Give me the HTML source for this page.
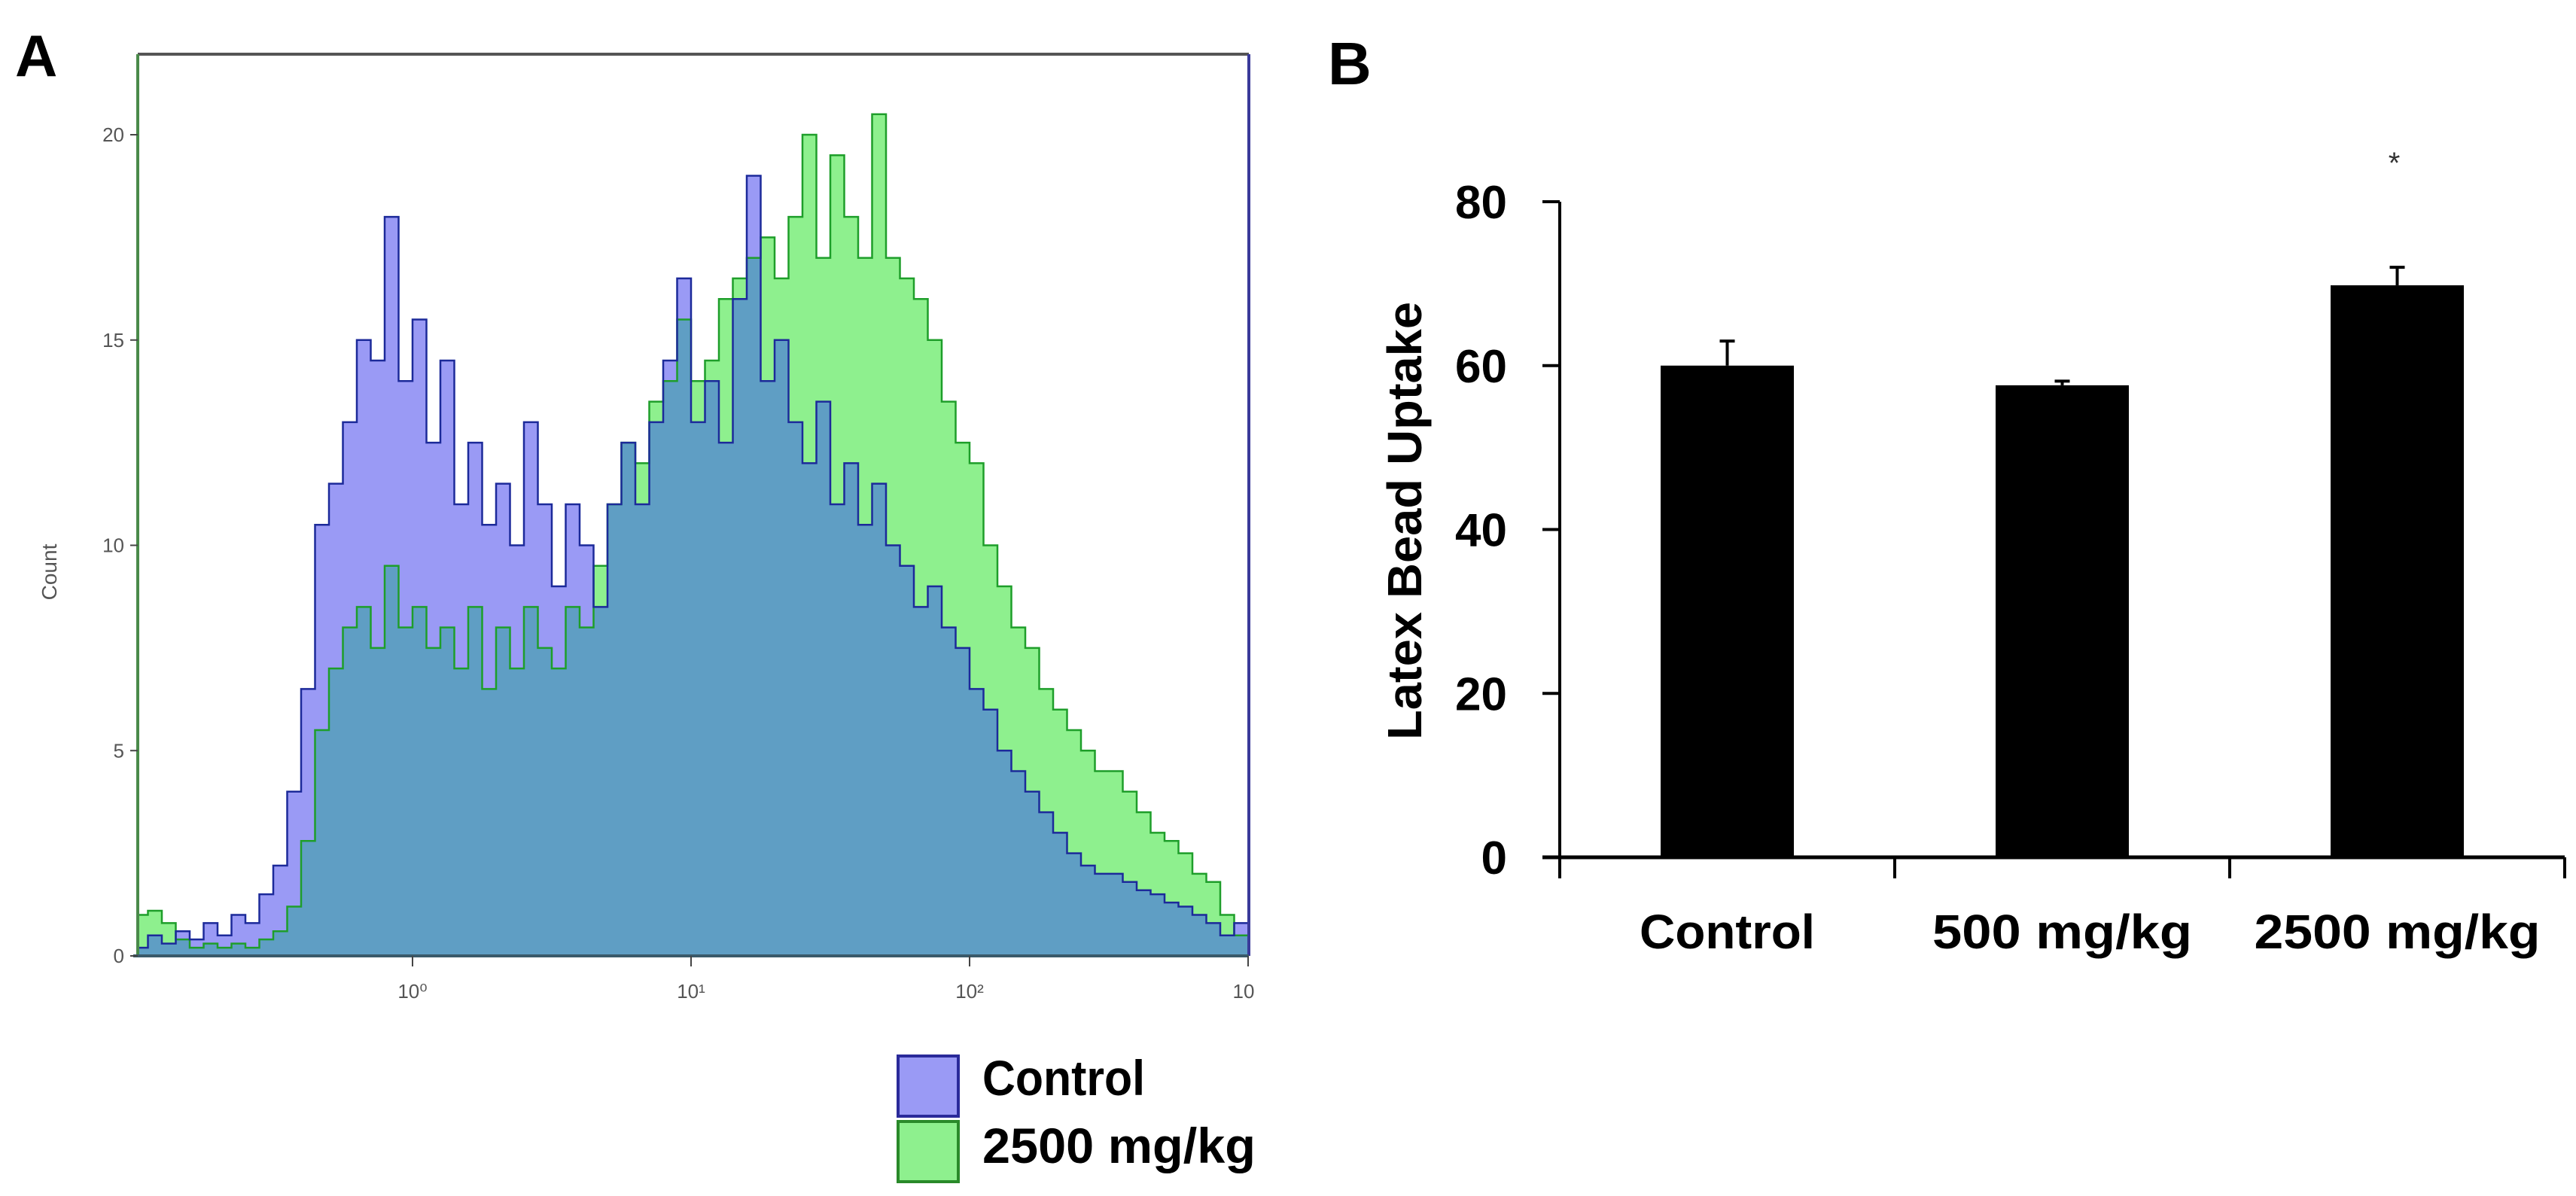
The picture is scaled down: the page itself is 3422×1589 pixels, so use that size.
<!DOCTYPE html>
<html><head><meta charset="utf-8"><style>
html,body{margin:0;padding:0;background:#fff;}
svg{display:block;font-family:"Liberation Sans","DejaVu Sans",sans-serif;}
</style></head><body>
<svg id="fig" width="3422" height="1589" viewBox="0 0 3422 1589" xmlns="http://www.w3.org/2000/svg">
<text x="20" y="101" font-size="78" font-weight="bold">A</text>
<text x="1764" y="112" font-size="80" font-weight="bold">B</text>
<g id="histo"></g>
<g id="bars"></g>
</svg>
<script>
// ---------- Panel A data (counts per log-bin, 80 bins from 10^-1 to 10^3) ----------
const controlCounts = [0.2,0.5,0.3,0.6,0.4,0.8,0.5,1.0,0.8,1.5,
 2.2,4,6.5,10.5,11.5,13,15,14.5,18,14,
 15.5,12.5,14.5,11,12.5,10.5,11.5,10,13,11,
 9,11,10,8.5,11,12.5,11,13,14.5,16.5,
 13,14,12.5,16,19,14,15,13,12,13.5,
 11,12,10.5,11.5,10,9.5,8.5,9,8,7.5,
 6.5,6,5,4.5,4,3.5,3,2.5,2.2,2,
 2,1.8,1.6,1.5,1.3,1.2,1,0.8,0.5,0.8];
const treatedCounts = [1.0,1.1,0.8,0.4,0.2,0.3,0.2,0.3,0.2,0.4,
 0.6,1.2,2.8,5.5,7,8,8.5,7.5,9.5,8,
 8.5,7.5,8,7,8.5,6.5,8,7,8.5,7.5,
 7,8.5,8,9.5,11,12.5,12,13.5,14,15.5,
 14,14.5,16,16.5,17,17.5,16.5,18,20,17,
 19.5,18,17,20.5,17,16.5,16,15,13.5,12.5,
 12,10,9,8,7.5,6.5,6,5.5,5,4.5,
 4.5,4,3.5,3,2.8,2.5,2,1.8,1,0.5];
const histYTicks = [0,5,10,15,20];
const histXTicks = [0,1,2,3];
const histXTickLabels = ["10\u2070","10\u00b9","10\u00b2","10"];
// ---------- Panel B data ----------
const groups = ["Control","500 mg/kg","2500 mg/kg"];
const means = [60,57.6,69.8];
const errors = [3,0.5,2.2];
const sig = ["","","*"];
const barYTicks = [0,20,40,60,80];

const NS="http://www.w3.org/2000/svg";
function mk(parent,tag,attrs,text){const e=document.createElementNS(NS,tag);for(const k in attrs)e.setAttribute(k,attrs[k]);if(text!==undefined)e.textContent=text;parent.appendChild(e);return e;}

// ---------- Panel A ----------
(function(){
 const g=document.getElementById('histo');
 const L=183,R=1659,T=72,B=1270;
 const xLog=v=>548+370*v;
 const y=v=>B-(B-179)*v/20;
 const nb=controlCounts.length, lo=-1, hi=3, w=(hi-lo)/nb;
 const bx=i=>Math.max(L,xLog(lo+w*i));
 function areaPath(arr){let d=`M${L},${B}`;arr.forEach((v,i)=>{d+=` L${bx(i)},${y(v)} L${bx(i+1)},${y(v)}`;});return d+` L${R},${B} Z`;}
 function linePts(arr){let p=[];arr.forEach((v,i)=>{p.push(`${bx(i)},${y(v)}`);p.push(`${bx(i+1)},${y(v)}`);});return p.join(' ');}
 const overlap=controlCounts.map((v,i)=>Math.min(v,treatedCounts[i]));
 let e;
 e=mk(g,'path',{d:areaPath(treatedCounts),fill:'#8ef08e'});
 
 
 e=mk(g,'path',{d:areaPath(controlCounts),fill:'#9a9af5'});
 
 
 e=mk(g,'path',{d:areaPath(overlap),fill:'#5f9ec4'});
 
 
 e=mk(g,'polyline',{points:linePts(treatedCounts),fill:'none',stroke:'#1e9e2a','stroke-width':2.5});
 
 
 e=mk(g,'polyline',{points:linePts(controlCounts),fill:'none',stroke:'#1c2a9a','stroke-width':2.5});
 
 
 e=mk(g,'line',{x1:L,y1:T,x2:R,y2:T,stroke:'#555','stroke-width':4});
 
 
 e=mk(g,'line',{x1:L,y1:T,x2:L,y2:B,stroke:'#4a8a4a','stroke-width':4});
 
 
 e=mk(g,'line',{x1:R,y1:T,x2:R,y2:B,stroke:'#3a3a9a','stroke-width':4});
 
 
 e=mk(g,'line',{x1:L-6,y1:B,x2:R,y2:B,stroke:'#3a5a6a','stroke-width':4});
 
 
 histYTicks.forEach(t=>{
  e=mk(g,'line',{x1:L-10,y1:y(t),x2:L,y2:y(t),stroke:'#444','stroke-width':2});
  
  
  e=mk(g,'text',{x:L-18,y:y(t)+9,'font-size':26,'text-anchor':'end',fill:'#555'},String(t));
  
  
 });
 histXTicks.forEach((t,i)=>{
  e=mk(g,'line',{x1:xLog(t),y1:B,x2:xLog(t),y2:B+14,stroke:'#444','stroke-width':2});
  
  
  e=mk(g,'text',{x:xLog(t)-(i==3?6:0),y:B+56,'font-size':26,'text-anchor':'middle',fill:'#555'},histXTickLabels[i]);
  
  
 });
 e=mk(g,'text',{x:0,y:0,'font-size':28,'text-anchor':'middle',fill:'#555',transform:'translate(75,760) rotate(-90)'},'Count');
 
 
 e=mk(g,'rect',{x:1193,y:1403,width:80,height:80,fill:'#9a9af5',stroke:'#2a2a9a','stroke-width':4});
 
 
 e=mk(g,'rect',{x:1193,y:1490,width:80,height:80,fill:'#8ef08e',stroke:'#2a8a2a','stroke-width':4});
 
 
 e=mk(g,'text',{x:1305,y:1455,'font-size':66,'font-weight':'bold',textLength:216,lengthAdjust:'spacingAndGlyphs'},'Control');
 
 
 e=mk(g,'text',{x:1305,y:1545,'font-size':66,'font-weight':'bold',textLength:363,lengthAdjust:'spacingAndGlyphs'},'2500 mg/kg');
 
 
})();

// ---------- Panel B ----------
(function(){
 const g=document.getElementById('bars');
 const X0=2072,X1=3407,B=1139,T=268;
 const y=v=>B-(B-T)*v/80;
 const band=(X1-X0)/groups.length;
 const cx=i=>X0+band*(i+0.5);
 const bw=177;
 let e;
 e=mk(g,'line',{x1:X0,y1:T,x2:X0,y2:B+28,stroke:'#000','stroke-width':4});
 
 
 e=mk(g,'line',{x1:2049,y1:B,x2:X1,y2:B,stroke:'#000','stroke-width':5});
 
 
 barYTicks.forEach(t=>{
  e=mk(g,'line',{x1:2049,y1:y(t),x2:X0,y2:y(t),stroke:'#000','stroke-width':4});
  
  
  e=mk(g,'text',{x:2002,y:y(t)+22,'font-size':62,'font-weight':'bold','text-anchor':'end'},String(t));
  
  
 });
 for(let i=1;i<=groups.length;i++){
  e=mk(g,'line',{x1:X0+band*i,y1:B,x2:X0+band*i,y2:B+28,stroke:'#000','stroke-width':4});
  
  
 }
 groups.forEach((name,i)=>{
  e=mk(g,'line',{x1:cx(i),y1:y(means[i]),x2:cx(i),y2:y(means[i]+errors[i]),stroke:'#000','stroke-width':4});
  
  
  e=mk(g,'line',{x1:cx(i)-10,y1:y(means[i]+errors[i]),x2:cx(i)+10,y2:y(means[i]+errors[i]),stroke:'#000','stroke-width':4});
  
  
  e=mk(g,'rect',{x:cx(i)-bw/2,y:y(means[i]),width:bw,height:B-y(means[i]),fill:'#000'});
  
  
  const lw=[233,345,380][i];
  e=mk(g,'text',{x:cx(i),y:1260,'font-size':64,'font-weight':'bold','text-anchor':'middle',textLength:lw,lengthAdjust:'spacingAndGlyphs'},name);
  
  
  if(sig[i]){
   e=mk(g,'text',{x:cx(i)-4,y:y(means[i]+errors[i])-125,'font-size':40,'text-anchor':'middle',fill:'#333'},sig[i]);
   
   
  }
 });
 e=mk(g,'text',{x:0,y:0,'font-size':64,'font-weight':'bold','text-anchor':'middle',textLength:582,lengthAdjust:'spacingAndGlyphs',transform:'translate(1888,692) rotate(-90)'},'Latex Bead Uptake');
 
 
})();
</script>
</body></html>
